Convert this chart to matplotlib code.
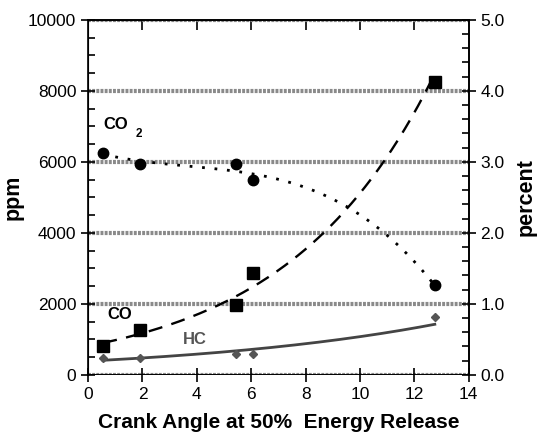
import numpy as np
from matplotlib import pyplot as plt
from matplotlib.ticker import MultipleLocator

plt.rcParams['font.family'] = ['Liberation Sans', 'DejaVu Sans']

# crank angle at 50% energy release (deg)
crank = [0.55, 1.9, 5.45, 6.05, 12.75]
# emissions in ppm
co2_ppm = [6250, 5950, 5950, 5480, 2520]
co_ppm = [820, 1270, 1960, 2870, 8250]
hc_ppm = [480, 480, 600, 600, 1620]

fig = plt.figure(figsize=(5.37, 4.40), dpi=100)
ax = fig.add_axes([0.164, 0.148, 0.709, 0.807])

# trend lines fitted to the points
xx = np.linspace(min(crank), max(crank), 200)
co_fit = np.exp(np.polyval(np.polyfit(crank, np.log(co_ppm), 1), xx))
hc_fit = np.exp(np.polyval(np.polyfit(crank, np.log(hc_ppm), 1), xx))
co2_fit = np.polyval(np.polyfit(crank, co2_ppm, 3), xx)

for g in [0, 2000, 4000, 6000, 8000, 10000]:
    ax.axhline(g, color='#8a8a8a', lw=3, ls=(0, (0.7, 0.3)), zorder=1)

ax.plot(xx, co_fit, color='black', ls=(0, (6, 4)), lw=1.7, zorder=3)
ax.plot(xx, hc_fit, color='#444444', ls='-', lw=2, zorder=3)
ax.plot(xx, co2_fit, color='black', ls=(0, (1, 3.5)), lw=2, zorder=3)

ax.plot(crank, co2_ppm, 'o', color='black', ms=7.5, zorder=4)
ax.plot(crank, co_ppm, 's', color='black', ms=8, zorder=4)
ax.plot(crank, hc_ppm, 'D', color='#555555', ms=4.5, zorder=4)

ax.set_xlim(0, 14)
ax.set_ylim(0, 10000)
ax.set_xticks([0, 2, 4, 6, 8, 10, 12, 14])
ax.yaxis.set_major_locator(MultipleLocator(2000))
ax.yaxis.set_minor_locator(MultipleLocator(500))
ax.spines['bottom'].set_visible(False)
for s in ['left', 'right', 'top']:
    ax.spines[s].set_linewidth(1.2)

ax.tick_params(axis='both', which='major', labelsize=12.5, width=1.2)
ax.tick_params(axis='y', which='major', direction='inout', length=10)
ax.tick_params(axis='y', which='minor', direction='in', length=5, width=1.2)
ax.tick_params(axis='x', which='major', direction='inout', length=10, top=False)
ax.axhline(0, color='black', lw=1.4, zorder=2)

top = ax.secondary_xaxis('top')
top.set_xticks([2, 4, 6, 8, 10, 12])
top.tick_params(direction='in', length=7, width=1.2, labeltop=False)
top.spines['top'].set_linewidth(1.2)

ax2 = ax.twinx()
ax2.set_ylim(0, 5.0)
ax2.yaxis.set_major_locator(MultipleLocator(1.0))
ax2.yaxis.set_minor_locator(MultipleLocator(0.2))
ax2.yaxis.set_major_formatter(lambda v, p: f'{v:.1f}')
ax2.spines['bottom'].set_visible(False)
ax2.spines['right'].set_linewidth(1.2)
ax2.tick_params(axis='y', which='major', direction='inout', length=10, labelsize=12.5, width=1.2)
ax2.tick_params(axis='y', which='minor', direction='in', length=5, width=1.2)

ax.set_ylabel('ppm', fontsize=15.5, fontweight='bold', labelpad=3)
ax2.set_ylabel('percent', fontsize=15.5, fontweight='bold', labelpad=8)
ax.set_xlabel('Crank Angle at 50%  Energy Release', fontsize=15, fontweight='bold', labelpad=8)

ax.text(0.55, 7050, 'CO', fontsize=12, fontweight='bold', va='center')
ax.text(1.75, 6780, '2', fontsize=8.5, fontweight='bold', va='center')
ax.text(0.7, 1700, 'CO', fontsize=12, fontweight='bold', va='center')
ax.text(3.5, 990, 'HC', fontsize=12, fontweight='bold', color='#555555', va='center')

fig.savefig('out.png', dpi=100)
